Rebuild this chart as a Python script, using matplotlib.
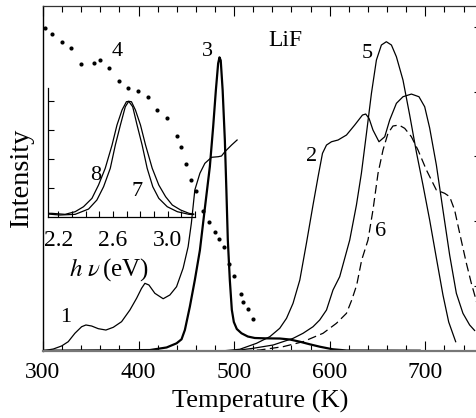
import matplotlib.pyplot as plt
from matplotlib.ticker import MultipleLocator, FixedLocator, NullFormatter

plt.rcParams["font.family"] = ["Liberation Serif", "DejaVu Serif"]
plt.rcParams["mathtext.fontset"] = "stix"

# glow curves, temperature (K) vs intensity (arb. units)
t1 = [300.4, 310.9, 319.6, 326.5, 333.5, 340.5, 345.0, 351.0, 357.9, 365.9, 373.6,
      382.3, 391.0, 398.0, 403.2, 406.7, 410.9, 417.1, 425.8, 432.8, 439.8, 446.7,
      451.9, 455.3, 458.9, 464.2, 469.4, 476.4, 483.3, 486.8, 490.3, 497.3, 503.1]
i1 = [0.0, 0.026, 0.073, 0.139, 0.269, 0.370, 0.397, 0.381, 0.340, 0.319, 0.361,
      0.448, 0.628, 0.809, 0.963, 1.040, 1.014, 0.886, 0.802, 0.860, 0.988, 1.276,
      1.605, 1.971, 2.480, 2.738, 2.892, 2.985, 2.994, 3.005, 3.071, 3.174, 3.252]

t2 = [490.0, 505.9, 523.4, 537.3, 547.7, 554.8, 561.6, 568.7, 575.6, 582.5, 587.8,
      592.4, 596.6, 601.8, 608.7, 617.5, 626.1, 634.2, 637.6, 641.1, 645.2, 651.5,
      657.5, 662.7, 669.7, 676.6, 685.4, 693.3, 699.3, 704.5, 711.5, 718.4, 725.4,
      732.4, 739.3, 746.3, 751.5]
i2 = [0.0, 0.022, 0.114, 0.216, 0.346, 0.500, 0.731, 1.091, 1.657, 2.248, 2.685,
      3.046, 3.174, 3.225, 3.252, 3.329, 3.483, 3.637, 3.653, 3.586, 3.406, 3.225,
      3.302, 3.560, 3.818, 3.920, 3.961, 3.920, 3.765, 3.437, 2.866, 2.171, 1.477,
      0.886, 0.577, 0.397, 0.312]

t3 = [300.0, 411.9, 429.4, 439.8, 445.0, 448.5, 453.7, 458.9, 464.2, 469.4, 474.6,
      478.1, 480.9, 483.3, 484.7, 486.0, 488.0, 490.3, 491.9, 493.4, 495.5, 497.6,
      499.7, 502.8, 507.7, 514.3, 521.6, 532.1, 547.8, 558.2, 568.7, 579.1, 589.5,
      603.1, 617.8, 694.0]
i3 = [0.0, 0.01, 0.05, 0.114, 0.176, 0.32, 0.68, 1.09, 1.55, 2.20, 2.84,
      3.46, 4.02, 4.435, 4.528, 4.48, 4.02, 3.25, 2.48, 1.71, 1.09, 0.63,
      0.443, 0.335, 0.269, 0.219, 0.196, 0.191, 0.188, 0.173, 0.139, 0.099, 0.062,
      0.022, 0.003, 0.0]

t4 = [302.2, 309.8, 319.6, 329.4, 339.5, 353.7, 359.7, 369.4, 379.5, 389.2, 399.7,
      409.5, 419.5, 429.7, 439.8, 444.6, 449.5, 454.4, 459.7, 467.6, 473.6, 479.5,
      484.3, 489.2, 494.5, 499.7, 507.7, 509.8, 514.6, 519.9]
i4 = [4.975, 4.883, 4.759, 4.667, 4.429, 4.440, 4.481, 4.363, 4.157, 4.054, 4.012,
      3.920, 3.710, 3.591, 3.309, 3.148, 2.881, 2.630, 2.465, 2.160, 1.981, 1.832,
      1.719, 1.596, 1.338, 1.153, 0.870, 0.752, 0.639, 0.485]

t5 = [500.0, 519.9, 540.8, 561.7, 572.1, 582.5, 589.5, 596.6, 603.4, 610.4, 620.9,
      627.9, 633.1, 638.4, 643.6, 648.8, 654.0, 659.2, 664.5, 669.7, 676.6, 683.6,
      690.6, 697.5, 704.5, 711.5, 718.4, 724.4, 731.7]
i5 = [0.0, 0.037, 0.088, 0.191, 0.269, 0.370, 0.474, 0.628, 0.937, 1.142, 1.708,
      2.248, 2.738, 3.355, 3.972, 4.486, 4.718, 4.769, 4.718, 4.537, 4.177, 3.637,
      3.066, 2.557, 2.017, 1.431, 0.860, 0.443, 0.139]

t6 = [510.0, 526.8, 551.2, 572.1, 593.0, 607.0, 617.5, 623.0, 628.2, 633.4, 640.0,
      645.2, 650.5, 655.7, 660.9, 666.1, 672.4, 678.4, 685.4, 692.3, 701.1, 711.5,
      720.2, 725.4, 730.6, 735.9, 742.9, 748.1, 753.6, 760.0]
i6 = [0.0, 0.011, 0.062, 0.139, 0.269, 0.423, 0.577, 0.782, 1.014, 1.400, 1.708,
      2.171, 2.738, 3.097, 3.355, 3.468, 3.483, 3.432, 3.302, 3.097, 2.789, 2.480,
      2.429, 2.377, 2.171, 1.812, 1.349, 1.040, 0.752, 0.45]

# emission spectra, photon energy (eV)
e8 = [2.124, 2.151, 2.249, 2.323, 2.384, 2.446, 2.494, 2.543, 2.593, 2.629, 2.666,
      2.698, 2.715, 2.735, 2.764, 2.801, 2.838, 2.887, 2.935, 2.985, 3.034, 3.095,
      3.156, 3.190]
s8 = [0.111, 0.111, 0.076, 0.167, 0.340, 0.632, 1.094, 1.674, 2.483, 3.177, 3.698,
      3.986, 4.0, 3.986, 3.698, 3.177, 2.483, 1.674, 1.094, 0.688, 0.399, 0.226,
      0.111, 0.087]
e7 = [2.124, 2.212, 2.323, 2.421, 2.482, 2.531, 2.580, 2.617, 2.654, 2.690, 2.715,
      2.744, 2.776, 2.813, 2.850, 2.891, 2.935, 2.997, 3.071, 3.156, 3.190]
s7 = [0.087, 0.052, 0.076, 0.260, 0.573, 1.035, 1.674, 2.483, 3.177, 3.813, 4.0,
      3.813, 3.177, 2.483, 1.674, 1.035, 0.632, 0.340, 0.167, 0.076, 0.070]

fig = plt.figure(figsize=(4.77, 4.18), dpi=100)
ax = fig.add_axes([0.0899, 0.161, 0.9101, 0.8246])

lw = 0.9
ax.plot(t3, i3, color="black", lw=1.6)
ax.plot(t1, i1, color="black", lw=lw)
ax.plot(t2, i2, color="black", lw=lw)
ax.plot(t5, i5, color="black", lw=lw)
ax.plot(t6, i6, color="black", lw=lw, linestyle=(0, (7, 3.5)))
ax.plot(t4, i4, "o", color="black", ms=3, mec="none")

ax.set_xlim(300, 754)
ax.set_ylim(0, 5.32)
ax.xaxis.set_major_locator(MultipleLocator(100))
ax.xaxis.set_minor_locator(MultipleLocator(20))
ax.yaxis.set_major_locator(FixedLocator([1, 2, 3, 4, 5]))
ax.tick_params(axis="x", which="both", direction="in", top=True, bottom=True,
               labelsize=17, pad=8)
ax.tick_params(axis="x", which="major", length=7, width=0.8)
ax.tick_params(axis="x", which="minor", length=4, width=0.8)
ax.tick_params(axis="y", which="major", direction="in", left=False, right=True,
               labelleft=False, length=2.5, width=0.8)
ax.spines["right"].set_visible(False)
ax.spines["left"].set_linewidth(1.0)
ax.spines["top"].set_linewidth(0.9)
ax.spines["top"].set_color("#333333")
ax.spines["bottom"].set_linewidth(1.6)
ax.spines["bottom"].set_color("#777777")

ax.set_xlabel("Temperature (K)", fontsize=19, va="center")
ax.xaxis.set_label_coords(0.5, -0.146)
ax.set_ylabel("Intensity", fontsize=20.5, va="center")
ax.yaxis.set_label_coords(-0.05, 0.5)

labels = {"1": (324.2, 0.505), "2": (581.2, 2.99), "3": (472.5, 4.625),
          "4": (378.0, 4.625), "5": (639.2, 4.586), "6": (653.3, 1.847)}
for k, (x, y) in labels.items():
    ax.text(x, y, k, fontsize=16, ha="center", va="center")
ax.text(554, 4.795, "LiF", fontsize=17, ha="center", va="center")

# inset: emission spectra
ins = fig.add_axes([0.1, 0.482, 0.3088, 0.308])
ins.patch.set_alpha(0)
ins.plot(e8, s8, color="black", lw=lw)
ins.plot(e7, s7, color="black", lw=lw)
ins.set_xlim(2.122, 3.2)
ins.set_ylim(0, 4.47)
ins.xaxis.set_major_locator(FixedLocator([2.2, 2.6, 3.0]))
ins.xaxis.set_minor_locator(MultipleLocator(0.1))
ins.yaxis.set_major_locator(FixedLocator([1, 2, 3, 4]))
ins.yaxis.set_major_formatter(NullFormatter())
ins.tick_params(which="both", direction="in", length=4, width=0.8, labelsize=17, pad=10)
ins.tick_params(axis="y", length=4)
ins.spines[["top", "right"]].set_visible(False)
ins.spines["left"].set_linewidth(0.9)
ins.spines["bottom"].set_linewidth(0.9)
ins.text(0.416, -0.415, r"$h\ \nu\,$(eV)", transform=ins.transAxes, fontsize=18,
         ha="center", va="center")
ins.text(2.47, 1.44, "8", fontsize=16, ha="center", va="center")
ins.text(2.775, 0.87, "7", fontsize=16, ha="center", va="center")

fig.savefig("out.png", dpi=100)
